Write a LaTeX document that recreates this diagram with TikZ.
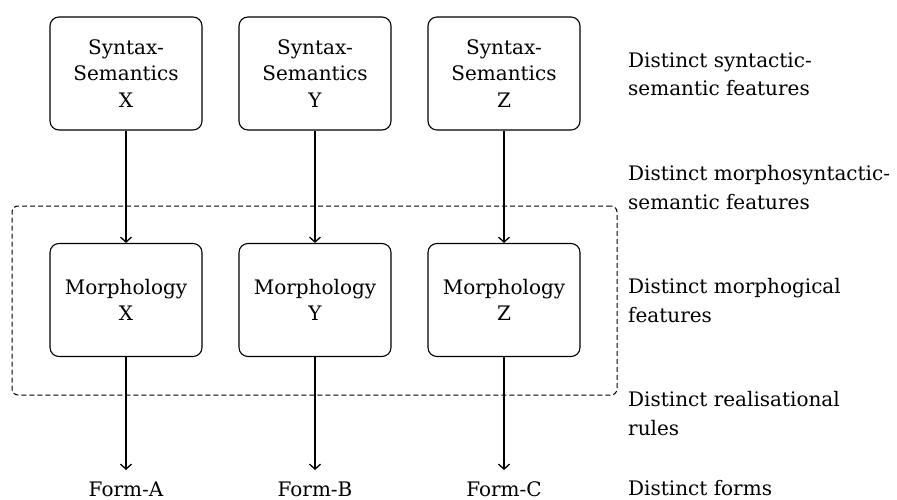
\documentclass[tikz,border=0pt]{standalone}
\usepackage{fontspec}
\setmainfont{DejaVu Serif}
\usetikzlibrary{arrows.meta}
\tikzset{
  box/.style={draw, line width=1.1pt, rounded corners=9pt, minimum width=152pt, minimum height=113pt, align=center, inner sep=0pt, font=\fontsize{20}{26.5}\selectfont},
  group/.style={draw, line width=1pt, dash pattern=on 5pt off 3pt, rounded corners=6pt, minimum width=605pt, minimum height=189pt, inner sep=0pt},
  arr/.style={line width=1.5pt, -{Straight Barb[length=5pt,width=11pt,line width=1.3pt]}},
  form/.style={anchor=base, inner sep=0pt, font=\fontsize{20}{26}\selectfont},
  lab/.style={anchor=base west, align=left, inner sep=0pt, font=\fontsize{20}{28.5}\selectfont}
}
\begin{document}
\begin{tikzpicture}[x=1pt,y=1pt]
\useasboundingbox (0,0) rectangle (897,499);
\node[group] (grp) at (314.5,198.5) {};
\node[box] (s1) at (126,425.5) {Syntax-\\Semantics\\X};
\node[box] (s2) at (315,425.5) {Syntax-\\Semantics\\Y};
\node[box] (s3) at (504,425.5) {Syntax-\\Semantics\\Z};
\node[box] (m1) at (126,199) {Morphology\\X};
\node[box] (m2) at (315,199) {Morphology\\Y};
\node[box] (m3) at (504,199) {Morphology\\Z};
\node[form] (f1) at (126,3) {Form-A};
\node[form] (f2) at (315,3) {Form-B};
\node[form] (f3) at (504,3) {Form-C};
\coordinate (t1) at (126,29);
\coordinate (t2) at (315,29);
\coordinate (t3) at (504,29);
\draw[arr] (s1) -- (m1);
\draw[arr] (s2) -- (m2);
\draw[arr] (s3) -- (m3);
\draw[arr] (m1.south) -- (t1);
\draw[arr] (m2.south) -- (t2);
\draw[arr] (m3.south) -- (t3);
\node[lab] (l1) at (628,403) {Distinct syntactic-\\semantic features};
\node[lab] (l2) at (628,290) {Distinct morphosyntactic-\\semantic features};
\node[lab] (l3) at (628,177) {Distinct morphogical\\features};
\node[lab] (l4) at (628,64) {Distinct realisational\\rules};
\node[lab] (l5) at (628,4) {Distinct forms};
\end{tikzpicture}
\end{document}
